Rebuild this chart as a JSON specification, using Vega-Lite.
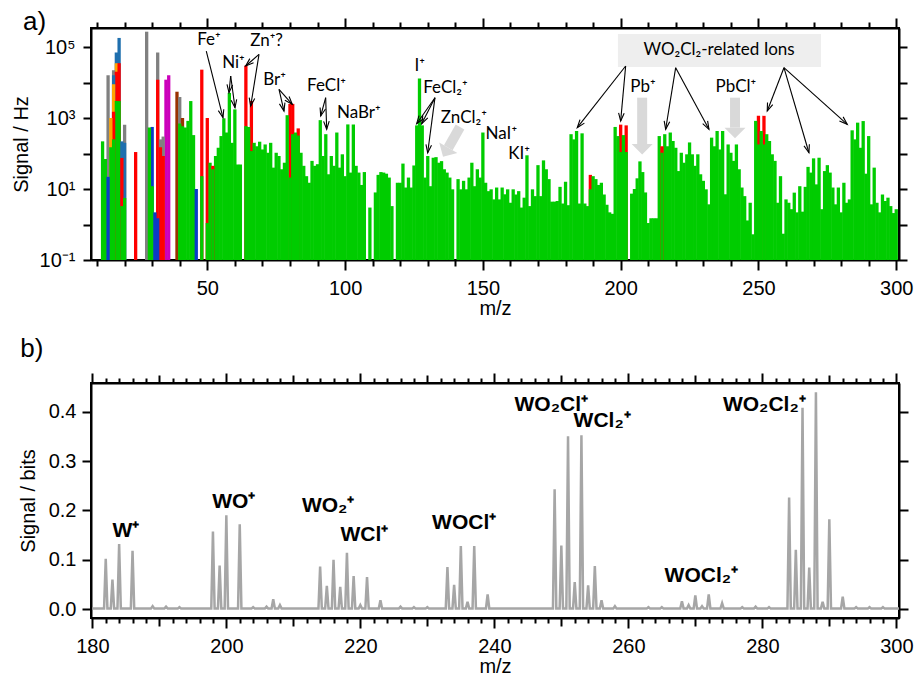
{
"$schema": "https://vega.github.io/schema/vega-lite/v6.json",
"background": "white",
"padding": {"left": 10, "right": 5, "top": 8, "bottom": 0},
"bounds": "flush",
"spacing": 123,
"config": {
 "view": {"stroke": "black", "strokeWidth": 2},
 "axis": {"domainColor": "black", "domainWidth": 2, "tickColor": "black", "tickWidth": 2, "labelFont": "Liberation Sans", "labelFontSize": 20, "labelColor": "black", "titleFont": "Liberation Sans", "titleFontSize": 20, "titleFontWeight": "normal", "titleColor": "black", "grid": false},
 "title": {"font": "Liberation Sans", "fontSize": 26, "fontWeight": "normal", "anchor": "start", "frame": "bounds", "color": "black"}
},
"datasets": {
 "bars": [
{"m":12,"v":220,"s":"G"},{"m":13,"v":70,"s":"G"},
{"m":14,"v":16000,"s":"N"},{"m":14,"v":22,"s":"B"},
{"m":15,"v":1000,"s":"O"},{"m":15,"v":150,"s":"G"},
{"m":16,"v":22000,"s":"N"},{"m":16,"v":16000,"s":"S"},{"m":16,"v":9000,"s":"O"},{"m":16,"v":1500,"s":"R"},{"m":16,"v":250,"s":"G"},
{"m":17,"v":70000,"s":"S"},{"m":17,"v":35000,"s":"O"},{"m":17,"v":20000,"s":"R"},{"m":17,"v":3000,"s":"G"},
{"m":18,"v":180000,"s":"S"},{"m":18,"v":35000,"s":"R"},{"m":18,"v":3000,"s":"G"},
{"m":19,"v":220,"s":"S"},{"m":19,"v":75,"s":"R"},{"m":19,"v":3.3,"s":"G"},
{"m":20,"v":650,"s":"N"},{"m":20,"v":200,"s":"S"},{"m":20,"v":5.6,"s":"G"},
{"m":24,"v":110,"s":"R"},
{"m":28,"v":270000,"s":"N"},
{"m":29,"v":540,"s":"G"},
{"m":30,"v":560,"s":"B"},{"m":30,"v":12,"s":"G"},
{"m":31,"v":2.2,"s":"B"},
{"m":32,"v":70000,"s":"N"},{"m":32,"v":12000,"s":"R"},{"m":32,"v":1.5,"s":"B"},
{"m":33,"v":250,"s":"N"},{"m":33,"v":150,"s":"R"},
{"m":34,"v":300,"s":"N"},{"m":34,"v":85,"s":"R"},
{"m":35,"v":12000,"s":"M"},{"m":36,"v":16000,"s":"M"},
{"m":39,"v":5500,"s":"Br"},
{"m":40,"v":3900,"s":"N"},{"m":40,"v":700,"s":"G"},
{"m":41,"v":1000,"s":"Br"},{"m":41,"v":590,"s":"G"},
{"m":42,"v":540,"s":"G"},{"m":43,"v":830,"s":"G"},{"m":44,"v":3000,"s":"G"},{"m":45,"v":330,"s":"G"},
{"m":46,"v":10,"s":"B"},
{"m":48,"v":23000,"s":"R"},{"m":48,"v":23,"s":"G"},
{"m":50,"v":1000,"s":"R"},{"m":50,"v":1.1,"s":"G"},
{"m":51,"v":55,"s":"G"},{"m":52,"v":45,"s":"R"},{"m":52,"v":36,"s":"G"},
{"m":53,"v":85,"s":"G"},{"m":54,"v":145,"s":"G"},{"m":55,"v":310,"s":"G"},{"m":56,"v":980,"s":"G"},{"m":57,"v":390,"s":"G"},
{"m":58,"v":5100,"s":"G"},{"m":59,"v":200,"s":"G"},{"m":60,"v":1750,"s":"G"},{"m":61,"v":49,"s":"G"},{"m":62,"v":49,"s":"G"},
{"m":64,"v":30000,"s":"R"},{"m":64,"v":590,"s":"G"},{"m":65,"v":560,"s":"G"},
{"m":66,"v":3000,"s":"R"},{"m":66,"v":117,"s":"G"},
{"m":67,"v":200,"s":"G"},{"m":68,"v":160,"s":"G"},{"m":69,"v":215,"s":"G"},{"m":70,"v":130,"s":"G"},{"m":71,"v":180,"s":"G"},
{"m":72,"v":105,"s":"G"},{"m":73,"v":200,"s":"G"},{"m":74,"v":40,"s":"G"},{"m":75,"v":105,"s":"G"},{"m":76,"v":85,"s":"G"},
{"m":77,"v":36,"s":"G"},{"m":78,"v":55,"s":"G"},{"m":79,"v":1200,"s":"G"},
{"m":80,"v":2500,"s":"R"},{"m":80,"v":21,"s":"G"},
{"m":81,"v":2500,"s":"R"},{"m":81,"v":350,"s":"G"},
{"m":82,"v":390,"s":"G"},{"m":83,"v":510,"s":"R"},{"m":83,"v":320,"s":"G"},
{"m":84,"v":105,"s":"G"},{"m":85,"v":45,"s":"G"},{"m":86,"v":23,"s":"G"},{"m":87,"v":15,"s":"G"},{"m":88,"v":62,"s":"G"},
{"m":89,"v":45,"s":"G"},{"m":90,"v":50,"s":"G"},{"m":91,"v":870,"s":"G"},{"m":92,"v":85,"s":"G"},{"m":93,"v":350,"s":"G"},
{"m":94,"v":26,"s":"G"},{"m":95,"v":85,"s":"G"},{"m":96,"v":45,"s":"G"},{"m":97,"v":390,"s":"G"},{"m":98,"v":40,"s":"G"},
{"m":99,"v":95,"s":"G"},{"m":100,"v":23,"s":"G"},{"m":101,"v":660,"s":"G"},{"m":102,"v":29,"s":"G"},{"m":103,"v":660,"s":"G"},
{"m":104,"v":45,"s":"G"},{"m":105,"v":29,"s":"G"},{"m":106,"v":13,"s":"G"},{"m":107,"v":30,"s":"G"},
{"m":109,"v":3,"s":"G"},{"m":111,"v":8,"s":"G"},{"m":112,"v":25,"s":"G"},{"m":113,"v":30,"s":"G"},{"m":114,"v":29,"s":"G"},
{"m":115,"v":27,"s":"G"},{"m":116,"v":21,"s":"G"},{"m":117,"v":3.3,"s":"G"},
{"m":119,"v":15,"s":"G"},{"m":120,"v":15,"s":"G"},{"m":121,"v":52,"s":"G"},{"m":122,"v":11,"s":"G"},{"m":123,"v":21,"s":"G"},
{"m":124,"v":11,"s":"G"},{"m":125,"v":46,"s":"G"},{"m":126,"v":620,"s":"G"},{"m":127,"v":13000,"s":"G"},{"m":128,"v":620,"s":"G"},
{"m":129,"v":21,"s":"G"},{"m":130,"v":85,"s":"G"},{"m":131,"v":12,"s":"G"},{"m":132,"v":76,"s":"G"},{"m":133,"v":79,"s":"G"},
{"m":134,"v":55,"s":"G"},{"m":135,"v":61,"s":"G"},{"m":136,"v":36,"s":"G"},{"m":137,"v":29,"s":"G"},{"m":138,"v":21,"s":"G"},
{"m":139,"v":9.8,"s":"G"},{"m":141,"v":19,"s":"G"},{"m":142,"v":9.8,"s":"G"},{"m":143,"v":17,"s":"G"},{"m":144,"v":9.8,"s":"G"},
{"m":145,"v":21,"s":"G"},{"m":146,"v":55,"s":"G"},{"m":147,"v":12,"s":"G"},{"m":148,"v":36,"s":"G"},{"m":149,"v":21,"s":"G"},
{"m":150,"v":390,"s":"G"},{"m":151,"v":15,"s":"G"},{"m":152,"v":8.7,"s":"G"},{"m":153,"v":9.8,"s":"G"},{"m":154,"v":5.1,"s":"G"},
{"m":155,"v":11,"s":"G"},{"m":156,"v":5.1,"s":"G"},{"m":157,"v":11,"s":"G"},{"m":158,"v":7.1,"s":"G"},{"m":159,"v":9.8,"s":"G"},
{"m":160,"v":4.1,"s":"G"},{"m":161,"v":9.8,"s":"G"},{"m":162,"v":7,"s":"G"},{"m":163,"v":8.7,"s":"G"},{"m":164,"v":3,"s":"G"},
{"m":165,"v":5.7,"s":"G"},{"m":166,"v":89,"s":"G"},{"m":167,"v":3.3,"s":"G"},{"m":168,"v":9.8,"s":"G"},{"m":169,"v":6.3,"s":"G"},
{"m":170,"v":47,"s":"G"},{"m":171,"v":6.3,"s":"G"},{"m":172,"v":64,"s":"G"},{"m":173,"v":36,"s":"G"},{"m":174,"v":19,"s":"G"},
{"m":175,"v":4.4,"s":"G"},{"m":176,"v":4.4,"s":"G"},{"m":177,"v":4.6,"s":"G"},{"m":178,"v":11.5,"s":"G"},{"m":179,"v":3.9,"s":"G"},
{"m":180,"v":16,"s":"G"},{"m":181,"v":3.5,"s":"G"},{"m":182,"v":350,"s":"G"},{"m":183,"v":250,"s":"G"},{"m":184,"v":430,"s":"G"},
{"m":185,"v":3.9,"s":"G"},{"m":186,"v":370,"s":"G"},{"m":187,"v":3.9,"s":"G"},{"m":188,"v":3.3,"s":"G"},
{"m":189,"v":25,"s":"R"},{"m":189,"v":9.8,"s":"G"},
{"m":190,"v":23,"s":"G"},{"m":191,"v":19,"s":"G"},{"m":192,"v":13,"s":"G"},{"m":193,"v":15,"s":"G"},{"m":194,"v":7,"s":"G"},
{"m":195,"v":3.6,"s":"G"},{"m":196,"v":2.2,"s":"G"},{"m":197,"v":2,"s":"G"},{"m":198,"v":560,"s":"G"},{"m":199,"v":310,"s":"G"},
{"m":200,"v":650,"s":"R"},{"m":200,"v":110,"s":"G"},{"m":201,"v":330,"s":"G"},{"m":202,"v":620,"s":"R"},{"m":202,"v":110,"s":"G"},
{"m":204,"v":7.4,"s":"G"},{"m":205,"v":10,"s":"G"},{"m":206,"v":20,"s":"G"},{"m":207,"v":60,"s":"G"},{"m":208,"v":30,"s":"G"},
{"m":209,"v":8,"s":"G"},{"m":210,"v":1.1,"s":"G"},{"m":211,"v":1.5,"s":"G"},{"m":212,"v":1.5,"s":"G"},{"m":213,"v":1.5,"s":"G"},
{"m":214,"v":310,"s":"G"},{"m":215,"v":160,"s":"R"},{"m":215,"v":105,"s":"G"},
{"m":216,"v":350,"s":"G"},{"m":217,"v":160,"s":"G"},{"m":218,"v":390,"s":"G"},{"m":219,"v":225,"s":"G"},{"m":220,"v":145,"s":"G"},
{"m":221,"v":32,"s":"G"},{"m":222,"v":105,"s":"G"},{"m":223,"v":55,"s":"G"},{"m":224,"v":95,"s":"G"},{"m":225,"v":205,"s":"G"},
{"m":226,"v":95,"s":"G"},{"m":227,"v":45,"s":"G"},{"m":228,"v":95,"s":"G"},{"m":229,"v":26,"s":"G"},{"m":230,"v":17,"s":"G"},
{"m":231,"v":9.8,"s":"G"},{"m":232,"v":3.7,"s":"G"},{"m":233,"v":280,"s":"G"},{"m":234,"v":160,"s":"G"},{"m":235,"v":430,"s":"G"},
{"m":236,"v":130,"s":"G"},{"m":237,"v":430,"s":"G"},{"m":238,"v":7.1,"s":"G"},{"m":239,"v":180,"s":"G"},{"m":240,"v":105,"s":"G"},
{"m":241,"v":62,"s":"G"},{"m":242,"v":180,"s":"G"},{"m":243,"v":36,"s":"G"},{"m":244,"v":11,"s":"G"},{"m":245,"v":6.3,"s":"G"},
{"m":246,"v":1.3,"s":"G"},{"m":247,"v":4.1,"s":"G"},{"m":248,"v":0.53,"s":"G"},{"m":249,"v":830,"s":"G"},
{"m":250,"v":1150,"s":"R"},{"m":250,"v":180,"s":"G"},{"m":251,"v":430,"s":"G"},{"m":252,"v":1150,"s":"R"},{"m":252,"v":180,"s":"G"},
{"m":253,"v":350,"s":"G"},{"m":254,"v":225,"s":"G"},{"m":255,"v":95,"s":"G"},
{"m":256,"v":62,"s":"G"},{"m":257,"v":4.1,"s":"G"},{"m":258,"v":23,"s":"G"},{"m":259,"v":0.55,"s":"G"},{"m":260,"v":5.1,"s":"G"},
{"m":261,"v":4.1,"s":"G"},{"m":262,"v":2.7,"s":"G"},{"m":263,"v":7.9,"s":"G"},{"m":264,"v":2.2,"s":"G"},{"m":265,"v":12,"s":"G"},
{"m":266,"v":2.3,"s":"G"},{"m":267,"v":11.5,"s":"G"},{"m":268,"v":42,"s":"G"},{"m":269,"v":29,"s":"G"},{"m":270,"v":73,"s":"G"},
{"m":271,"v":13.5,"s":"G"},{"m":272,"v":76,"s":"G"},{"m":273,"v":2.7,"s":"G"},{"m":274,"v":32,"s":"G"},{"m":275,"v":47,"s":"G"},
{"m":276,"v":29,"s":"G"},{"m":277,"v":11,"s":"G"},{"m":278,"v":3.7,"s":"G"},{"m":279,"v":11,"s":"G"},{"m":280,"v":2.2,"s":"G"},
{"m":281,"v":15,"s":"G"},{"m":282,"v":4.1,"s":"G"},{"m":283,"v":5.1,"s":"G"},{"m":284,"v":450,"s":"G"},{"m":285,"v":250,"s":"G"},
{"m":286,"v":740,"s":"G"},{"m":287,"v":145,"s":"G"},{"m":288,"v":820,"s":"G"},{"m":289,"v":27,"s":"G"},{"m":290,"v":310,"s":"G"},
{"m":291,"v":3.7,"s":"G"},{"m":292,"v":40,"s":"G"},{"m":293,"v":4.1,"s":"G"},{"m":294,"v":2.2,"s":"G"},{"m":295,"v":7,"s":"G"},
{"m":296,"v":4.6,"s":"G"},{"m":297,"v":5.7,"s":"G"},{"m":298,"v":3.3,"s":"G"},{"m":299,"v":2.1,"s":"G"},{"m":300,"v":2.7,"s":"G"}
 ],
 "arrows": [
{"x":49.64,"y":77090,"x2":55.7,"y2":1019,"ang":165.9},
{"x":58.49,"y":15240,"x2":57.87,"y2":5164,"ang":185.8},
{"x":58.49,"y":15240,"x2":60.05,"y2":1950,"ang":172.3},
{"x":68.76,"y":62230,"x2":63.93,"y2":29170,"ang":228.7},
{"x":68.76,"y":62230,"x2":65.75,"y2":2178,"ang":189.1},
{"x":76.02,"y":6427,"x2":80.84,"y2":2432,"ang":138.4},
{"x":76.02,"y":6427,"x2":77.83,"y2":1574,"ang":167},
{"x":92.96,"y":3733,"x2":91.15,"y2":1138,"ang":195.3},
{"x":92.96,"y":3733,"x2":93.32,"y2":481,"ang":178.2},
{"x":132.62,"y":3733,"x2":125.98,"y2":690,"ang":215.1},
{"x":132.62,"y":3733,"x2":127.79,"y2":690,"ang":207.1},
{"x":132.62,"y":3733,"x2":129.97,"y2":105,"ang":187.6},
{"x":201.81,"y":29170,"x2":184.25,"y2":533,"ang":218.1},
{"x":201.81,"y":29170,"x2":200.0,"y2":822,"ang":185.2},
{"x":219.96,"y":26120,"x2":216.33,"y2":481,"ang":189.2},
{"x":219.96,"y":26120,"x2":232.04,"y2":481,"ang":151.6},
{"x":259.25,"y":26120,"x2":253.19,"y2":1574,"ang":201.1},
{"x":259.25,"y":26120,"x2":268.32,"y2":105,"ang":163.6},
{"x":259.25,"y":26120,"x2":282.22,"y2":665,"ang":131.8}
 ],
 "garrows": [
{"x":207.8,"y":3733,"x2":207.8,"y2":185,"ang":0},
{"x":241.5,"y":3733,"x2":241.5,"y2":533,"ang":0},
{"x":141.7,"y":557,"x2":137.45,"y2":146,"ang":30}
 ],
 "labA": [
{"t":"Fe⁺","x":50.6,"y":155000},
{"t":"Ni⁺","x":59.5,"y":36000},
{"t":"Zn⁺?","x":71.5,"y":148000},
{"t":"Br⁺","x":74.4,"y":11700},
{"t":"FeCl⁺","x":93.25,"y":7900},
{"t":"NaBr⁺","x":105,"y":1400},
{"t":"I⁺","x":127.1,"y":29000},
{"t":"FeCl₂⁺","x":136.4,"y":7100},
{"t":"ZnCl₂⁺","x":143.1,"y":1020},
{"t":"NaI⁺","x":156.7,"y":347},
{"t":"KI⁺","x":163.1,"y":100},
{"t":"Pb⁺","x":208.1,"y":7460},
{"t":"PbCl⁺","x":241.8,"y":7460}
 ],
 "peaks": [
{"m":180,"v":0.001},
{"m":181.75,"v":0.001},{"m":182,"v":0.102},{"m":182.25,"v":0.001},
{"m":182.75,"v":0.001},{"m":183,"v":0.06},{"m":183.25,"v":0.001},
{"m":183.75,"v":0.001},{"m":184,"v":0.132},{"m":184.25,"v":0.001},
{"m":185.75,"v":0.001},{"m":186,"v":0.118},{"m":186.25,"v":0.001},
{"m":188.75,"v":0.001},{"m":189,"v":0.006},{"m":189.25,"v":0.001},
{"m":190.75,"v":0.001},{"m":191,"v":0.005},{"m":191.25,"v":0.001},
{"m":192.75,"v":0.001},{"m":193,"v":0.004},{"m":193.25,"v":0.001},
{"m":197.75,"v":0.001},{"m":198,"v":0.157},{"m":198.25,"v":0.001},
{"m":198.75,"v":0.001},{"m":199,"v":0.088},{"m":199.25,"v":0.001},
{"m":199.75,"v":0.001},{"m":200,"v":0.19},{"m":200.25,"v":0.001},
{"m":201.75,"v":0.001},{"m":202,"v":0.172},{"m":202.25,"v":0.001},
{"m":203.75,"v":0.001},{"m":204,"v":0.004},{"m":204.25,"v":0.001},
{"m":205.75,"v":0.001},{"m":206,"v":0.005},{"m":206.25,"v":0.001},
{"m":206.75,"v":0.001},{"m":207,"v":0.02},{"m":207.25,"v":0.001},
{"m":207.75,"v":0.001},{"m":208,"v":0.008},{"m":208.25,"v":0.001},
{"m":213.75,"v":0.001},{"m":214,"v":0.086},{"m":214.25,"v":0.001},
{"m":214.75,"v":0.001},{"m":215,"v":0.047},{"m":215.25,"v":0.001},
{"m":215.75,"v":0.001},{"m":216,"v":0.1},{"m":216.25,"v":0.001},
{"m":216.75,"v":0.001},{"m":217,"v":0.045},{"m":217.25,"v":0.001},
{"m":217.75,"v":0.001},{"m":218,"v":0.114},{"m":218.25,"v":0.001},
{"m":218.75,"v":0.001},{"m":219,"v":0.067},{"m":219.25,"v":0.001},
{"m":219.75,"v":0.001},{"m":220,"v":0.008},{"m":220.25,"v":0.001},
{"m":220.75,"v":0.001},{"m":221,"v":0.065},{"m":221.25,"v":0.001},
{"m":222.75,"v":0.001},{"m":223,"v":0.018},{"m":223.25,"v":0.001},
{"m":225.75,"v":0.001},{"m":226,"v":0.005},{"m":226.25,"v":0.001},
{"m":227.75,"v":0.001},{"m":228,"v":0.004},{"m":228.25,"v":0.001},
{"m":229.75,"v":0.001},{"m":230,"v":0.004},{"m":230.25,"v":0.001},
{"m":232.75,"v":0.001},{"m":233,"v":0.085},{"m":233.25,"v":0.001},
{"m":233.75,"v":0.001},{"m":234,"v":0.049},{"m":234.25,"v":0.001},
{"m":234.75,"v":0.001},{"m":235,"v":0.128},{"m":235.25,"v":0.001},
{"m":235.75,"v":0.001},{"m":236,"v":0.015},{"m":236.25,"v":0.001},
{"m":236.75,"v":0.001},{"m":237,"v":0.128},{"m":237.25,"v":0.001},
{"m":238.75,"v":0.001},{"m":239,"v":0.03},{"m":239.25,"v":0.001},
{"m":248.75,"v":0.001},{"m":249,"v":0.243},{"m":249.25,"v":0.001},
{"m":249.75,"v":0.001},{"m":250,"v":0.129},{"m":250.25,"v":0.001},
{"m":250.75,"v":0.001},{"m":251,"v":0.35},{"m":251.25,"v":0.001},
{"m":251.75,"v":0.001},{"m":252,"v":0.055},{"m":252.25,"v":0.001},
{"m":252.75,"v":0.001},{"m":253,"v":0.352},{"m":253.25,"v":0.001},
{"m":253.75,"v":0.001},{"m":254,"v":0.048},{"m":254.25,"v":0.001},
{"m":254.75,"v":0.001},{"m":255,"v":0.087},{"m":255.25,"v":0.001},
{"m":255.75,"v":0.001},{"m":256,"v":0.018},{"m":256.25,"v":0.001},
{"m":257.75,"v":0.001},{"m":258,"v":0.006},{"m":258.25,"v":0.001},
{"m":262.75,"v":0.001},{"m":263,"v":0.004},{"m":263.25,"v":0.001},
{"m":264.75,"v":0.001},{"m":265,"v":0.004},{"m":265.25,"v":0.001},
{"m":267.75,"v":0.001},{"m":268,"v":0.016},{"m":268.25,"v":0.001},
{"m":268.75,"v":0.001},{"m":269,"v":0.008},{"m":269.25,"v":0.001},
{"m":269.75,"v":0.001},{"m":270,"v":0.028},{"m":270.25,"v":0.001},
{"m":270.75,"v":0.001},{"m":271,"v":0.006},{"m":271.25,"v":0.001},
{"m":271.75,"v":0.001},{"m":272,"v":0.03},{"m":272.25,"v":0.001},
{"m":273.75,"v":0.001},{"m":274,"v":0.012},{"m":274.25,"v":0.001},
{"m":276.75,"v":0.001},{"m":277,"v":0.004},{"m":277.25,"v":0.001},
{"m":278.75,"v":0.001},{"m":279,"v":0.005},{"m":279.25,"v":0.001},
{"m":280.75,"v":0.001},{"m":281,"v":0.004},{"m":281.25,"v":0.001},
{"m":283.75,"v":0.001},{"m":284,"v":0.226},{"m":284.25,"v":0.001},
{"m":284.75,"v":0.001},{"m":285,"v":0.12},{"m":285.25,"v":0.001},
{"m":285.75,"v":0.001},{"m":286,"v":0.408},{"m":286.25,"v":0.001},
{"m":286.75,"v":0.001},{"m":287,"v":0.084},{"m":287.25,"v":0.001},
{"m":287.75,"v":0.001},{"m":288,"v":0.439},{"m":288.25,"v":0.001},
{"m":288.75,"v":0.001},{"m":289,"v":0.015},{"m":289.25,"v":0.001},
{"m":289.75,"v":0.001},{"m":290,"v":0.182},{"m":290.25,"v":0.001},
{"m":291.75,"v":0.001},{"m":292,"v":0.025},{"m":292.25,"v":0.001},
{"m":293.75,"v":0.001},{"m":294,"v":0.004},{"m":294.25,"v":0.001},
{"m":295.75,"v":0.001},{"m":296,"v":0.004},{"m":296.25,"v":0.001},
{"m":297.75,"v":0.001},{"m":298,"v":0.004},{"m":298.25,"v":0.001},
{"m":300.4,"v":0.001}
 ],
 "labB": [
{"t":"W⁺","x":185.0,"y":0.158},
{"t":"WO⁺","x":201.1,"y":0.216},
{"t":"WO₂⁺","x":215.2,"y":0.209},
{"t":"WCl⁺","x":220.6,"y":0.151},
{"t":"WOCl⁺","x":235.5,"y":0.175},
{"t":"WO₂Cl⁺","x":248.5,"y":0.414},
{"t":"WCl₂⁺","x":256.1,"y":0.381},
{"t":"WOCl₂⁺","x":270.9,"y":0.067},
{"t":"WO₂Cl₂⁺","x":280.3,"y":0.414}
 ]
},
"vconcat": [
 {
  "title": {"text": "a)", "offset": -18, "dx": 12},
  "width": 808,
  "height": 232,
  "resolve": {"axis": {"x": "independent", "y": "independent"}},
  "layer": [
   {
    "data": {"name": "bars"},
    "mark": {"type": "bar", "width": 3.3, "clip": true},
    "encoding": {
     "x": {"field": "m", "type": "quantitative", "scale": {"domain": [7.8, 301], "nice": false, "zero": false, "padding": 0},
       "axis": {"orient": "bottom", "title": "m/z", "values": [10,20,30,40,50,60,70,80,90,100,110,120,130,140,150,160,170,180,190,200,210,220,230,240,250,260,270,280,290,300],
         "labelExpr": "datum.value % 50 === 0 ? datum.label : ''",
         "tickSize": {"condition": {"test": "datum.value % 50 === 0", "value": 10}, "value": 6},
         "labelPadding": 8, "titlePadding": 0, "labelFlush": false}},
     "y": {"field": "v", "type": "quantitative", "scale": {"type": "log", "domain": [0.1, 343000], "nice": false},
       "axis": {"orient": "left", "title": "Signal / Hz", "values": [0.1, 1, 10, 100, 1000, 10000, 100000],
         "labelExpr": "datum.value == 100000 ? '10⁵' : datum.value == 1000 ? '10³' : datum.value == 10 ? '10¹' : datum.value == 0.1 ? '10⁻¹' : ''",
         "tickSize": 8, "labelPadding": 8, "titlePadding": 8}},
     "y2": {"datum": 0.1},
     "color": {"field": "s", "type": "nominal", "legend": null,
       "scale": {"domain": ["G", "R", "N", "O", "S", "B", "M", "Br"], "range": ["#00cc00", "#ff0000", "#808080", "#ffa500", "#1f6fae", "#0a3bc8", "#cc00bb", "#993300"]}},
     "order": {"field": "v", "sort": "descending"}
    }
   },
   {
    "data": {"values": [{"x1": 199, "x2": 272.7, "y1": 27500, "y2": 234000}]},
    "mark": {"type": "rect", "fill": "#eeeeee"},
    "encoding": {
     "x": {"field": "x1", "type": "quantitative", "axis": null}, "x2": {"field": "x2"},
     "y": {"field": "y1", "type": "quantitative", "axis": null}, "y2": {"field": "y2"}
    }
   },
   {
    "data": {"values": [{"t": "WO₂Cl₂-related Ions", "x": 235.7, "y": 80700}]},
    "mark": {"type": "text", "font": "Lato", "fontSize": 17, "color": "black", "baseline": "middle"},
    "encoding": {
     "x": {"field": "x", "type": "quantitative", "axis": null},
     "y": {"field": "y", "type": "quantitative", "axis": null},
     "text": {"field": "t"}
    }
   },
   {
    "data": {"name": "garrows"},
    "mark": {"type": "rule", "color": "#d9d9d9", "strokeWidth": 10, "strokeCap": "butt"},
    "encoding": {
     "x": {"field": "x", "type": "quantitative", "axis": null}, "x2": {"field": "x2"},
     "y": {"field": "y", "type": "quantitative", "axis": null}, "y2": {"field": "y2"}
    }
   },
   {
    "data": {"name": "garrows"},
    "mark": {"type": "point", "shape": "M-1,0L1,0L0,1Z", "filled": true, "color": "#d9d9d9", "opacity": 1, "size": 441},
    "encoding": {
     "x": {"field": "x2", "type": "quantitative", "axis": null},
     "y": {"field": "y2", "type": "quantitative", "axis": null},
     "angle": {"field": "ang", "type": "quantitative", "scale": null}
    }
   },
   {
    "data": {"name": "arrows"},
    "mark": {"type": "rule", "color": "black", "strokeWidth": 1.1},
    "encoding": {
     "x": {"field": "x", "type": "quantitative", "axis": null}, "x2": {"field": "x2"},
     "y": {"field": "y", "type": "quantitative", "axis": null}, "y2": {"field": "y2"}
    }
   },
   {
    "data": {"name": "arrows"},
    "mark": {"type": "point", "shape": "M-0.7,2L0,0L0.7,2", "filled": false, "stroke": "black", "strokeWidth": 1.1, "opacity": 1, "size": 64},
    "encoding": {
     "x": {"field": "x2", "type": "quantitative", "axis": null},
     "y": {"field": "y2", "type": "quantitative", "axis": null},
     "angle": {"field": "ang", "type": "quantitative", "scale": null}
    }
   },
   {
    "data": {"name": "labA"},
    "mark": {"type": "text", "font": "Lato", "fontSize": 17, "color": "black", "baseline": "middle"},
    "encoding": {
     "x": {"field": "x", "type": "quantitative",
       "axis": {"orient": "top", "title": null, "labels": false, "values": [10,20,30,40,50,60,70,80,90,100,110,120,130,140,150,160,170,180,190,200,210,220,230,240,250,260,270,280,290,300],
         "tickSize": {"condition": {"test": "datum.value % 50 === 0", "value": 10}, "value": 6}}},
     "y": {"field": "y", "type": "quantitative",
       "axis": {"orient": "right", "title": null, "labels": false, "values": [0.1, 1, 10, 100, 1000, 10000, 100000], "tickSize": 8}},
     "text": {"field": "t"}
    }
   }
  ]
 },
 {
  "title": {"text": "b)", "offset": 10, "dx": 2},
  "width": 808,
  "height": 235,
  "resolve": {"axis": {"x": "independent", "y": "independent"}},
  "layer": [
   {
    "data": {"name": "peaks"},
    "mark": {"type": "line", "color": "#a6a6a6", "strokeWidth": 2.5, "clip": true},
    "encoding": {
     "x": {"field": "m", "type": "quantitative", "scale": {"domain": [179.8, 300.4], "nice": false, "zero": false},
       "axis": {"orient": "bottom", "title": "m/z", "values": [180,182,184,186,188,190,192,194,196,198,200,202,204,206,208,210,212,214,216,218,220,222,224,226,228,230,232,234,236,238,240,242,244,246,248,250,252,254,256,258,260,262,264,266,268,270,272,274,276,278,280,282,284,286,288,290,292,294,296,298,300],
         "labelExpr": "datum.value % 20 === 0 ? datum.label : ''",
         "tickSize": {"condition": [{"test": "datum.value % 20 === 0", "value": 10}, {"test": "datum.value % 10 === 0", "value": 8}], "value": 5},
         "labelPadding": 8, "titlePadding": 0, "labelFlush": false}},
     "y": {"field": "v", "type": "quantitative", "scale": {"domain": [-0.018, 0.458], "nice": false, "zero": false},
       "axis": {"orient": "left", "title": "Signal / bits", "values": [0, 0.1, 0.2, 0.3, 0.4], "format": ".1f", "tickSize": 9, "labelPadding": 6, "titlePadding": 10}}
    }
   },
   {
    "data": {"name": "labB"},
    "mark": {"type": "text", "font": "Liberation Sans", "fontSize": 21, "fontWeight": "bold", "color": "black", "baseline": "middle"},
    "encoding": {
     "x": {"field": "x", "type": "quantitative",
       "axis": {"orient": "top", "title": null, "labels": false, "values": [180,182,184,186,188,190,192,194,196,198,200,202,204,206,208,210,212,214,216,218,220,222,224,226,228,230,232,234,236,238,240,242,244,246,248,250,252,254,256,258,260,262,264,266,268,270,272,274,276,278,280,282,284,286,288,290,292,294,296,298,300],
         "tickSize": {"condition": [{"test": "datum.value % 20 === 0", "value": 10}, {"test": "datum.value % 10 === 0", "value": 8}], "value": 5}}},
     "y": {"field": "y", "type": "quantitative",
       "axis": {"orient": "right", "title": null, "labels": false, "values": [0, 0.1, 0.2, 0.3, 0.4], "tickSize": 9}},
     "text": {"field": "t"}
    }
   }
  ]
 }
]
}
